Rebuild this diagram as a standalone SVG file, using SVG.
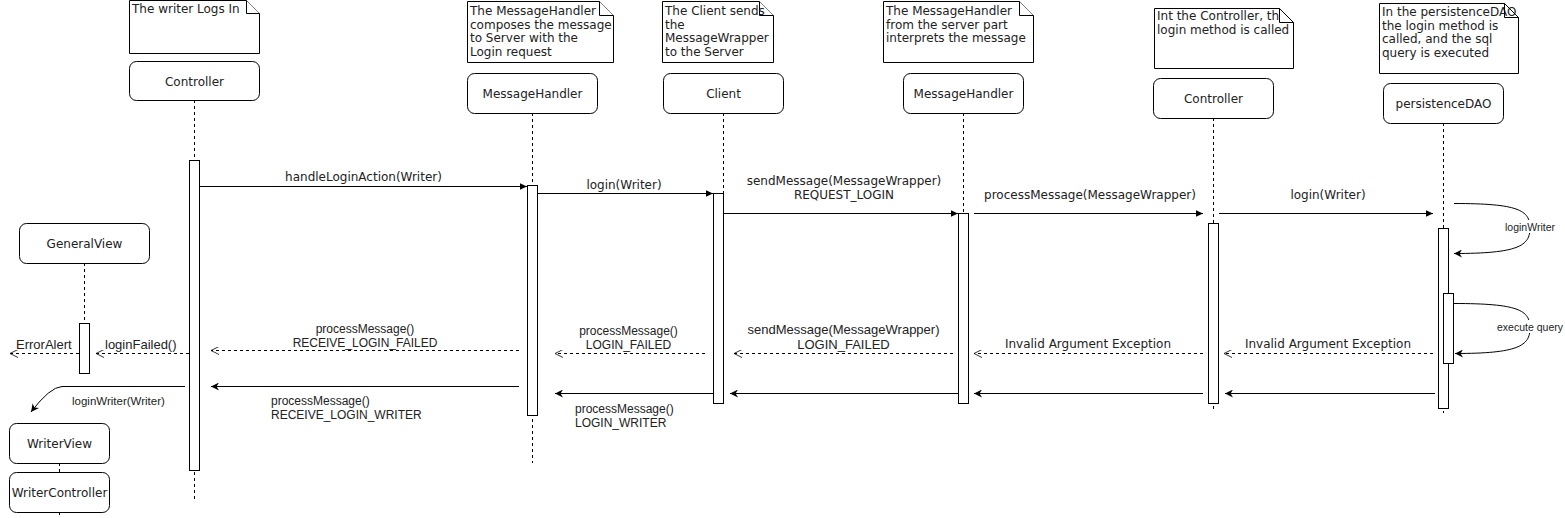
<svg xmlns="http://www.w3.org/2000/svg" width="1565" height="518" viewBox="0 0 1565 518">
<style>
.box{fill:#fff;stroke:#000;stroke-width:1}
.note{fill:#fff;stroke:#000;stroke-width:1}
.act{fill:#fff;stroke:#000;stroke-width:1}
.life{stroke:#000;stroke-width:1;stroke-dasharray:3 3;fill:none}
.msg{stroke:#000;stroke-width:1;fill:none}
.ret{stroke:#000;stroke-width:1;fill:none;stroke-dasharray:3 3}
.t{font-family:"DejaVu Sans",Verdana,sans-serif;font-size:12px;fill:#222}
.a{font-family:"Liberation Sans",Arial,sans-serif;font-size:12px;fill:#222}
.c{text-anchor:middle}
.s{font-family:"Liberation Sans",Arial,sans-serif;font-size:10.5px;fill:#222;text-anchor:middle}
</style>
<defs>
<marker id="blk" viewBox="0 0 10 10" refX="10" refY="5" markerWidth="8" markerHeight="7" markerUnits="userSpaceOnUse" orient="auto"><path d="M0,0.5 L10,5 L0,9.5 z" fill="#000"/></marker>
<marker id="cls" viewBox="0 0 10 10" refX="10" refY="5" markerWidth="9" markerHeight="8" markerUnits="userSpaceOnUse" orient="auto"><path d="M0,0 L10,5 L0,10 L3,5 z" fill="#000"/></marker>
<marker id="opn" viewBox="0 0 10 10" refX="10" refY="5" markerWidth="9" markerHeight="8" markerUnits="userSpaceOnUse" orient="auto"><path d="M0,0 L10,5 L0,10" fill="none" stroke="#000" stroke-width="1"/></marker>
</defs>

<g id="lifelines">
<path class="life" d="M194.5,100 V500"/>
<path class="life" d="M532.5,113 V463"/>
<path class="life" d="M723.5,113 V405"/>
<path class="life" d="M963.5,113 V405"/>
<path class="life" d="M1213.5,118 V410"/>
<path class="life" d="M1443.5,123 V413"/>
<path class="life" d="M84.5,263 V323"/>
<path class="life" d="M59.5,463 V472"/>
<path class="life" d="M59.5,512 V518"/>
</g>

<g id="note1"><path class="note" d="M129.5,0.5 H246.5 L259.5,13.5 V53.5 H129.5 Z"/><path class="note" d="M246.5,0.5 V13.5 H259.5"/><text class="t" x="132" y="13">The writer Logs In</text></g>
<g id="note2"><path class="note" d="M467.5,1.5 H599.5 L613.5,15.5 V62.5 H467.5 Z"/><path class="note" d="M599.5,1.5 V15.5 H613.5"/><text class="t" x="470" y="15">The MessageHandler</text><text class="t" x="470" y="28.5">composes the message</text><text class="t" x="470" y="42">to Server with the</text><text class="t" x="470" y="55.5">Login request</text></g>
<g id="note3"><path class="note" d="M662.5,1.5 H759.5 L773.5,15.5 V62.5 H662.5 Z"/><path class="note" d="M759.5,1.5 V15.5 H773.5"/><text class="t" x="665" y="15">The Client sends</text><text class="t" x="665" y="28.5">the</text><text class="t" x="665" y="42">MessageWrapper</text><text class="t" x="665" y="55.5">to the Server</text></g>
<g id="note4"><path class="note" d="M883.5,1.5 H1019.5 L1033.5,15.5 V62.5 H883.5 Z"/><path class="note" d="M1019.5,1.5 V15.5 H1033.5"/><text class="t" x="886" y="15">The MessageHandler</text><text class="t" x="886" y="28.5">from the server part</text><text class="t" x="886" y="42">interprets the message</text></g>
<g id="note5"><path class="note" d="M1154.5,8.5 H1279.5 L1293.5,22.5 V68.5 H1154.5 Z"/><text class="t" x="1157" y="20">Int the Controller, the</text><text class="t" x="1157" y="33.5">login method is called</text><path class="note" d="M1279.5,8.5 V22.5 H1293.5" fill="none"/><path d="M1279.5,8.5 L1293.5,22.5" stroke="#000" fill="none"/></g>
<g id="note6"><path class="note" d="M1379.5,3.5 H1504.5 L1518.5,17.5 V73.5 H1379.5 Z"/><text class="t" x="1382" y="16">In the persistenceDAO</text><text class="t" x="1382" y="29.5">the login method is</text><text class="t" x="1382" y="43">called, and the sql</text><text class="t" x="1382" y="56.5">query is executed</text><path d="M1504.5,3.5 V17.5 H1518.5" fill="none" stroke="#000"/><path d="M1504.5,3.5 L1518.5,17.5" stroke="#000" fill="none"/></g>

<g id="controller1"><rect class="box" x="129.5" y="61.5" width="130" height="39" rx="7"/><text class="t c" x="194.5" y="85.5">Controller</text></g>
<g id="messagehandler1"><rect class="box" x="467.5" y="73.5" width="130" height="40" rx="7"/><text class="t c" x="532.5" y="98">MessageHandler</text></g>
<g id="client"><rect class="box" x="663.5" y="73.5" width="120" height="40" rx="7"/><text class="t c" x="723.5" y="98">Client</text></g>
<g id="messagehandler2"><rect class="box" x="903.5" y="73.5" width="120" height="40" rx="7"/><text class="t c" x="963.5" y="98">MessageHandler</text></g>
<g id="controller2"><rect class="box" x="1153.5" y="78.5" width="120" height="40" rx="7"/><text class="t c" x="1213.5" y="103">Controller</text></g>
<g id="persistencedao"><rect class="box" x="1383.5" y="83.5" width="120" height="40" rx="7"/><text class="t c" x="1443.5" y="108">persistenceDAO</text></g>
<g id="generalview"><rect class="box" x="19.5" y="223.5" width="130" height="40" rx="7"/><text class="t c" x="84.5" y="248">GeneralView</text></g>
<g id="writerview"><rect class="box" x="9.5" y="423.5" width="100" height="40" rx="7"/><text class="t c" x="59.5" y="448">WriterView</text></g>
<g id="writercontroller"><rect class="box" x="9.5" y="472.5" width="100" height="40" rx="7"/><text class="t c" x="59.5" y="497">WriterController</text></g>

<g id="activations">
<rect class="act" x="189.5" y="160.5" width="10" height="310"/>
<rect class="act" x="527.5" y="185.5" width="10" height="230"/>
<rect class="act" x="713.5" y="193.5" width="10" height="210"/>
<rect class="act" x="958.5" y="213.5" width="10" height="190"/>
<rect class="act" x="1208.5" y="223.5" width="10" height="180"/>
<rect class="act" x="1438.5" y="228.5" width="10" height="180"/>
<rect class="act" x="1443.5" y="293.5" width="10" height="70"/>
<rect class="act" x="79.5" y="323.5" width="10" height="50"/>
</g>

<g id="connectors">
<path class="msg" d="M200,186.5 H527" marker-end="url(#blk)"/>
<path class="msg" d="M538,193.5 H713" marker-end="url(#blk)"/>
<path class="msg" d="M724,213.5 H958" marker-end="url(#blk)"/>
<path class="msg" d="M974,213.5 H1203" marker-end="url(#blk)"/>
<path class="msg" d="M1219,213.5 H1433" marker-end="url(#blk)"/>
<path class="msg" d="M1454,203.5 C1518,203.5 1530,210 1530,228 C1530,246 1518,253.5 1454,253.5" marker-end="url(#cls)"/>
<path class="msg" d="M1454,303.5 C1518,303.5 1530,310 1530,328 C1530,346 1518,353.5 1455,353.5" marker-end="url(#cls)"/>

<path class="ret" d="M1433,353.5 H1224" marker-end="url(#opn)"/>
<path class="ret" d="M1203,353.5 H974" marker-end="url(#opn)"/>
<path class="ret" d="M953,353.5 H734" marker-end="url(#opn)"/>
<path class="ret" d="M705,353.5 H555" marker-end="url(#opn)"/>
<path class="ret" d="M519,350.5 H211" marker-end="url(#opn)"/>
<path class="ret" d="M189,353.5 H96" marker-end="url(#opn)"/>
<path class="ret" d="M79,353.5 H10" marker-end="url(#opn)"/>

<path class="msg" d="M1435,393.5 H1225" marker-end="url(#cls)"/>
<path class="msg" d="M1203,393.5 H974" marker-end="url(#cls)"/>
<path class="msg" d="M958,393.5 H730" marker-end="url(#cls)"/>
<path class="msg" d="M713,393.5 H555" marker-end="url(#cls)"/>
<path class="msg" d="M519,386.5 H211" marker-end="url(#cls)"/>
<path class="msg" d="M185,386.5 H62 Q50,387 31,412" marker-end="url(#cls)"/>

<text class="t c" x="363.5" y="181">handleLoginAction(Writer)</text>
<text class="t c" x="624" y="189">login(Writer)</text>
<text class="t c" x="844" y="185">sendMessage(MessageWrapper)</text>
<text class="t c" x="844" y="199">REQUEST_LOGIN</text>
<text class="t c" x="1090" y="199">processMessage(MessageWrapper)</text>
<text class="t c" x="1328" y="199">login(Writer)</text>
<rect x="1503" y="220" width="54" height="13" fill="#fff"/>
<text class="s" x="1530" y="231">loginWriter</text>
<rect x="1496" y="320" width="68" height="13" fill="#fff"/>
<text class="s" x="1530" y="331">execute query</text>

<text class="t c" x="1328" y="348">Invalid Argument Exception</text>
<text class="t c" x="1088" y="348">Invalid Argument Exception</text>
<text class="a c" x="843.5" y="334" style="font-size:13px">sendMessage(MessageWrapper)</text>
<text class="a c" x="843.5" y="349" style="font-size:13px">LOGIN_FAILED</text>
<text class="a c" x="628.5" y="335">processMessage()</text>
<text class="a c" x="628.5" y="349">LOGIN_FAILED</text>
<text class="a c" x="365" y="333">processMessage()</text>
<text class="a c" x="365" y="347">RECEIVE_LOGIN_FAILED</text>
<text class="a" x="105" y="349" style="font-size:13px">loginFailed()</text>
<text class="a" x="16" y="349" style="font-size:13px">ErrorAlert</text>
<text class="a" x="575" y="413">processMessage()</text>
<text class="a" x="575" y="427">LOGIN_WRITER</text>
<text class="a" x="271" y="405">processMessage()</text>
<text class="a" x="271" y="419">RECEIVE_LOGIN_WRITER</text>
<text class="a" x="72" y="405" style="font-size:11.5px">loginWriter(Writer)</text>
</g>
</svg>
